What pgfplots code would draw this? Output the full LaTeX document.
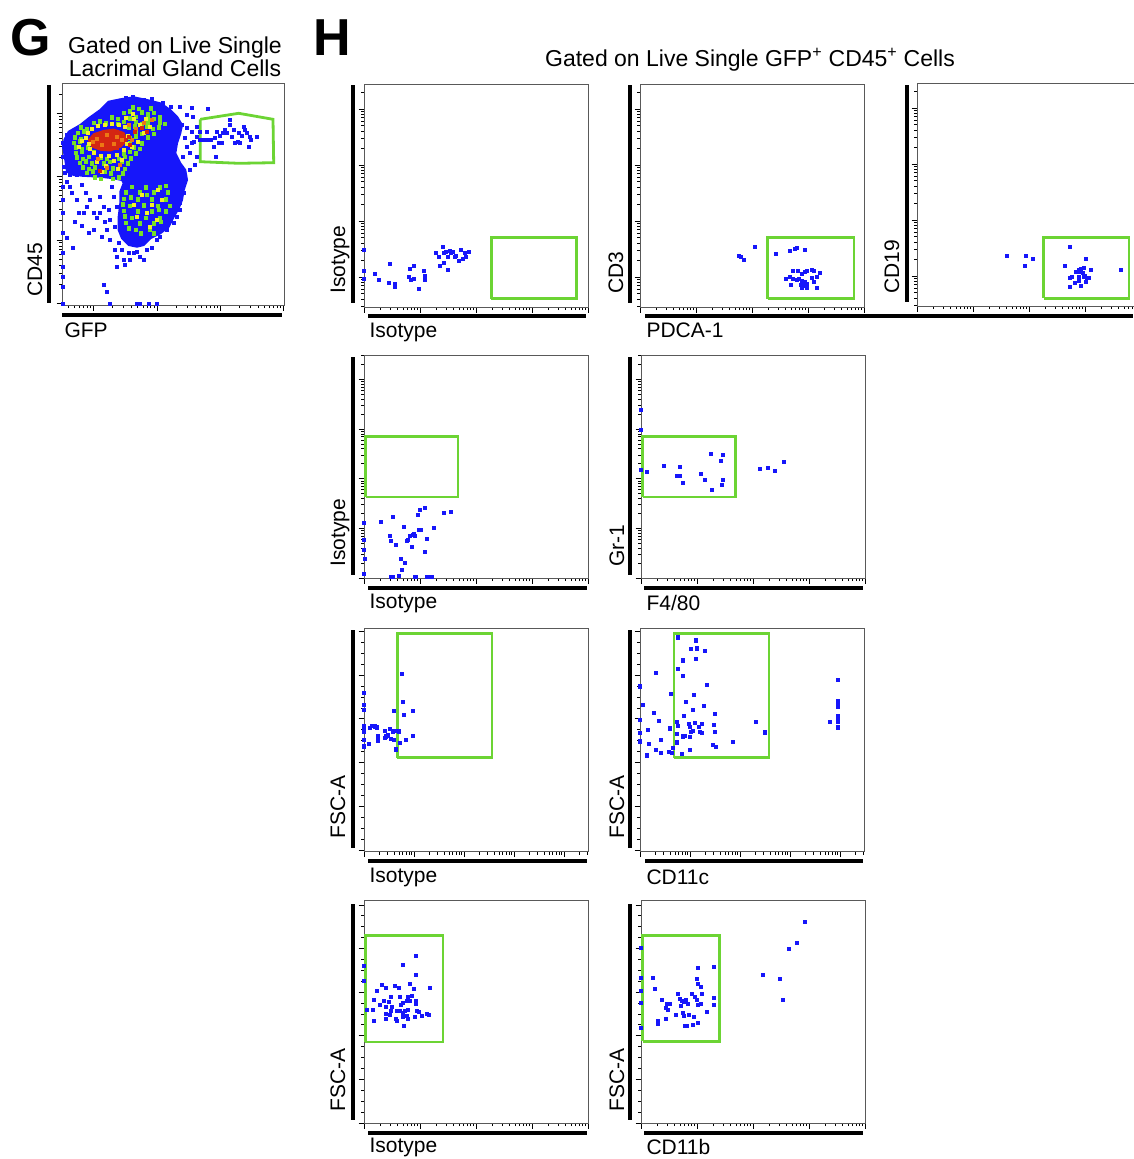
\documentclass[border=0pt]{standalone}
\usepackage{fontspec}
\setmainfont{Liberation Sans}
\usepackage{pgfplots}
\pgfplotsset{compat=1.18}
\definecolor{ptblue}{RGB}{22,22,250}
\definecolor{gate}{RGB}{108,212,52}
\definecolor{dgreen}{RGB}{118,224,40}
\definecolor{dyellow}{RGB}{244,240,40}
\definecolor{dorange}{RGB}{236,120,20}
\definecolor{dred}{RGB}{212,38,18}
\newcommand{\lf}{\fontsize{21}{25}\selectfont}
\newcommand{\tf}{\fontsize{23}{23.5}\selectfont}
\pgfplotsset{
  facs/.style={
    scale only axis, width=224pt, height=223pt,
    xmin=0, xmax=224, ymin=0, ymax=223,
    anchor=south west,
    axis line style={black!65, line width=0.9pt},
    tick align=outside, xtick pos=left, ytick pos=left,
    xticklabels={}, yticklabels={},
    major tick length=5.5pt, minor tick length=3pt,
    every tick/.append style={black, line width=0.9pt},
  },
  logxH/.style={xtick={0,56,112,168,224},
    minor xtick={16.9,26.7,33.7,39.1,43.6,47.3,50.6,53.4,72.9,82.7,89.7,95.1,99.6,103.3,106.6,109.4,128.9,138.7,145.7,151.1,155.6,159.3,162.6,165.4,184.9,194.7,201.7,207.1,211.6,215.3,218.6,221.4}},
  logxC/.style={xtick={0,50,100,150,200},
    minor xtick={15.1,23.9,30.1,35,38.9,42.3,45.2,47.7,65.1,73.9,80.1,85,88.9,92.3,95.2,97.7,115.1,123.9,130.1,135,138.9,142.3,145.2,147.7,165.1,173.9,180.1,185,188.9,192.3,195.2,197.7,215.1,223.9}},
  logyA/.style={ytick={30,86,142,198},
    minor ytick={0.7,7.7,13.1,17.6,21.3,24.6,27.4,46.9,56.7,63.7,69.1,73.6,77.3,80.6,83.4,102.9,112.7,119.7,125.1,129.6,133.3,136.6,139.4,158.9,168.7,175.7,181.1,185.6,189.3,192.6,195.4,214.9}},
  logyB/.style={ytick={0,49.6,99.2,148.8,198.4},
    minor ytick={14.9,23.7,29.9,34.7,38.6,41.9,44.8,47.3,64.5,73.3,79.5,84.3,88.2,91.5,94.4,96.9,114.1,122.9,129.1,133.9,137.8,141.1,144.0,146.5,163.7,172.5,178.7,183.5,187.4,190.7,193.6,196.1,213.3,222.1}},
  linyC/.style={ytick={1.5,45.2,88.9,132.6,176.3,220},
    minor ytick={12.4,23.4,34.3,56.1,67.1,78,99.8,110.8,121.7,143.5,154.5,165.4,187.2,198.2,209.1}},
  linyD/.style={ytick={0,43.6,87.2,130.8,174.4,218},
    minor ytick={10.9,21.8,32.7,54.5,65.4,76.3,98.1,109,119.9,141.7,152.6,163.5,185.3,196.2,207.1}},
  pts/.style={only marks, mark=square*, mark size=1.65pt, mark options={draw=#1, fill=#1, line width=0pt}},
  pts/.default=ptblue,
  gatebox/.style={draw=gate, line width=2.8pt, mark=none, line join=miter},
}
\begin{document}
\begin{tikzpicture}
\useasboundingbox (0pt,0pt) rectangle (1133pt,-1159pt);

% ---------------- titles and panel letters
\node[anchor=base west, font=\fontsize{52}{52}\selectfont\bfseries] at (7pt,-55pt) {G};
\node[anchor=base west, font=\fontsize{52}{52}\selectfont\bfseries] at (310pt,-55pt) {H};
\node[align=center, font=\tf] at (175pt,-57pt) {Gated on Live Single\\Lacrimal Gland Cells};
\node[font=\tf] at (750pt,-60pt) {Gated on Live Single GFP\textsuperscript{+} CD45\textsuperscript{+} Cells};

% ---------------- thick axis bars
\begin{scope}[line width=3.6pt]
\draw (49pt,-85pt) -- (49pt,-303pt);  \draw (62pt,-315pt) -- (282pt,-315pt);
\draw (353pt,-85pt) -- (353pt,-303pt); \draw (368pt,-316pt) -- (586pt,-316pt);
\draw (630pt,-85pt) -- (630pt,-303pt); \draw (645pt,-316pt) -- (1133pt,-316pt);
\draw (907pt,-85pt) -- (907pt,-302pt);
\draw (353pt,-357pt) -- (353pt,-575pt); \draw (368pt,-588pt) -- (587pt,-588pt);
\draw (630pt,-357pt) -- (630pt,-575pt); \draw (644pt,-588pt) -- (863pt,-588pt);
\draw (353pt,-630pt) -- (353pt,-848pt); \draw (368pt,-861pt) -- (587pt,-861pt);
\draw (630pt,-630pt) -- (630pt,-848pt); \draw (645pt,-861pt) -- (863pt,-861pt);
\draw (353pt,-904pt) -- (353pt,-1120pt); \draw (368pt,-1133pt) -- (587pt,-1133pt);
\draw (630pt,-904pt) -- (630pt,-1120pt); \draw (644pt,-1133pt) -- (863pt,-1133pt);
\end{scope}

% ---------------- axis labels
\node[font=\lf, anchor=west] at (61pt,-330pt) {GFP};
\node[font=\lf, rotate=90, anchor=west] at (35pt,-300pt) {CD45};
\node[font=\lf, anchor=west] at (366pt,-332pt) {Isotype};
\node[font=\lf, rotate=90, anchor=west] at (340pt,-297pt) {Isotype};
\node[font=\lf, anchor=west] at (643pt,-330pt) {PDCA-1};
\node[font=\lf, rotate=90, anchor=west] at (616pt,-297pt) {CD3};
\node[font=\lf, rotate=90, anchor=west] at (892pt,-297pt) {CD19};
\node[font=\lf, anchor=west] at (366pt,-603pt) {Isotype};
\node[font=\lf, rotate=90, anchor=west] at (340pt,-570pt) {Isotype};
\node[font=\lf, anchor=west] at (643pt,-603pt) {F4/80};
\node[font=\lf, rotate=90, anchor=west] at (617pt,-570pt) {Gr-1};
\node[font=\lf, anchor=west] at (366pt,-877pt) {Isotype};
\node[font=\lf, rotate=90, anchor=west] at (338pt,-842pt) {FSC-A};
\node[font=\lf, anchor=west] at (643pt,-877pt) {CD11c};
\node[font=\lf, rotate=90, anchor=west] at (617pt,-842pt) {FSC-A};
\node[font=\lf, anchor=west] at (366pt,-1147pt) {Isotype};
\node[font=\lf, rotate=90, anchor=west] at (338pt,-1115pt) {FSC-A};
\node[font=\lf, anchor=west] at (643pt,-1147pt) {CD11b};
\node[font=\lf, rotate=90, anchor=west] at (617pt,-1115pt) {FSC-A};

% ================= G: CD45 vs GFP
\begin{axis}[facs, at={(62pt,-305pt)}, width=222.3pt, height=222pt, xmax=222.3, ymax=222,
  xtick={31.7,95,158.3,221.7},
  minor xtick={6.5,12.6,17.7,21.9,25.6,28.8,50.8,61.9,69.8,75.9,81,85.2,88.9,92.1,114.1,125.2,133.1,139.2,144.3,148.5,152.2,155.4,177.4,188.5,196.4,202.5,207.6,211.8,215.5,218.7},
  ytick={1.7,65,128.3,191.7},
  minor ytick={20.8,31.9,39.8,45.9,51,55.2,58.9,62.1,84.1,95.2,103.1,109.2,114.3,118.5,122.2,125.4,147.4,158.5,166.4,172.5,177.6,181.8,185.5,188.7,210.8}]
% dense blue cloud
\addplot[fill=ptblue, draw=ptblue, line width=2pt, mark=none] coordinates {
(2.3,165) (6.7,173.3) (18.3,180) (26.7,186.7) (38.3,195) (46.7,203.3) (58.3,205.7) (71.7,207.7) (85,205) (98.3,201.7) (108.3,195) (115,188.3) (120,180) (118.3,171.7) (115,161.7) (113.3,151.7) (118.3,141.7) (123.3,135) (125,125) (121.7,115) (120,105) (116.7,96.7) (111.7,88.3) (106.7,78.3) (98.3,71.7) (88.3,66.7) (81.7,60) (75,58.3) (66.7,60) (60,66.7) (56.7,75) (56.7,88.3) (58.3,101.7) (58.3,113.3) (61.7,121.7) (60,125) (51.7,126.7) (38.3,128.3) (25,129) (11.7,130) (5,133.3) (3.3,145) (1.7,155) (2.3,165)};
% sparse blue events
\addplot[pts] coordinates {
(64.3,206.7) (71,207.7) (82.3,205) (90,206) (101,201.7) (109,197.7) (118.3,198.3) (130,196.7) (145.7,195.7) (131,187.7) (125,190) (56.7,203.3) (48.3,199)
(5,170) (10,173.3) (16.7,176.7) (1.7,158.3) (1,148.3) (1.7,138.3) (3.3,131.7) (8.3,130) (15,130) (21.7,130) (28.3,130)
(120,180) (125,176.7) (130,173.3) (135,178.3) (138.3,173.3) (135,168.3) (131.7,163.3) (125,158.3) (128.3,151.7) (135,148.3) (133.3,140) (128.3,135) (138.3,165) (130,161.7) (123.3,166.7) (121,148.3) (120,131.7) (123.3,125) (121.7,111.7) (118.3,101.7)
(8.3,118.3) (10,111.7) (5,123.3) (15,105) (20,120) (24.3,111.7) (28.3,105) (38.3,108.3) (41.7,98.3) (46.7,95) (48.3,85) (31.7,91.7) (21.7,91.7) (35,86.7) (20,79) (26.7,71.7) (5,66.7) (11,56.7) (40,68.3) (48.3,65) (53.3,55) (55,48.3) (61.7,45) (68.3,45) (71.7,51.7) (78.3,48.3) (81.7,45) (85,55) (90,56.7) (95,65) (55,38.3) (63.3,40) (41.7,20) (45,13.3) (48.3,1) (75,1) (78.3,1) (86.7,1) (95,1)
(50,118.3) (51.7,108.3) (55,98.3) (53.3,78.3) (45,75) (31.7,75) (25,98.3) (16.7,91.7) (13.3,83.3) (38.3,91.7) (43.3,83.3) (56.7,61.7) (60,55) (66.7,51.7) (75,53.3) (98.3,68.3) (105,75) (111.7,81.7) (115,88.3) (118.3,95)
(0.7,161.7) (0.7,118.3) (0.7,105) (0.7,91.7) (0.7,71.7) (0.7,51.7) (0.7,38.3) (0.7,28.3) (0.7,18.3) (0.7,1)
(141.7,165) (145,165) (149,165) (153.3,166.7) (155,173.3) (158.3,169) (161,171.7) (163.3,175) (167.7,185) (168.3,180) (165,171.7) (170,168.3) (171.7,175) (173.3,161.7) (175.7,163.3) (176.7,171.7) (178.3,161.7) (180,169) (181.7,178.3) (183.3,175) (185,171.7) (186.7,158.3) (187.7,168.3) (189,165) (195,168.3) (154.3,148.3) (156.7,161.7) (160,161.7) (145,173.3) (151.7,158.3)};
% medium density (green)
\addplot[pts=dgreen] coordinates {
(71,197.5) (77,196) (89,196.5)
(62,192) (68,193.5) (80,192.5) (86,190.5) (92,192)
(50,187.5) (56,186) (68,186.5) (74,188) (86,187.5) (92,186) (98,187.5)
(32,182) (38,183.5) (44,181.5) (56,181) (62,183) (74,183) (80,181) (86,182.5) (98,182.5) (103,181)
(19,177.5) (25,176) (67,177) (73,178.5) (85,178) (91,176) (97,177.5)
(16,172) (22,173.5) (74,173) (80,171) (92,171)
(13,167.5) (19,166) (68,167) (74,168.5) (86,167.5)
(12,162) (18,163.5) (68,161.5) (80,161.5)
(14,157.5) (20,156) (26,157.5) (72,157.5) (78,156)
(14,152) (20,153.5) (32,153) (62,151.5) (68,153) (74,151.5)
(15,147.5) (21,146) (27,148) (39,147.5) (45,146) (57,146) (63,148) (69,146.5)
(18,142) (24,143.5) (30,141.5) (42,141.5) (48,143) (60,143) (66,141.5)
(21,137.5) (27,136) (33,137.5) (45,138) (51,136.5) (63,136)
(25,132) (31,133.5) (43,133) (49,131.5) (61,131.5)
(33,127.5) (39,126) (51,126) (57,127.5)
(70,118) (84,117.5) (98,117.5) (104,119)
(64,112.5) (78,112.5) (92,112.5) (106,112.5) (85,110)
(62,106) (76,105.5) (90,105.5) (104,105.5) (69,107.5)
(68,99) (82,99.5) (96,99) (108,99) (61,100.5)
(62,94) (76,93.5) (90,93.5) (104,93.5) (97,95)
(70,87) (84,87) (98,87) (63,88.5)
(64,82) (78,81.5) (92,81.5) (99,83)
(74,75) (88,75) (67,76.5)
(79,71.5) (92,71.5)};
% high density (yellow)
\addplot[pts=dyellow] coordinates {
(24,167) (27,161) (26,172) (30,176) (36,179) (43,180) (50,181) (57,180) (63,178) (66,169) (65,161) (62,155) (55,150) (47,149) (39,149) (32,152) (28,156)
(35,143) (44,139) (52,144) (60,145) (70,158) (76,163) (82,172) (78,180) (72,186) (84,186) (88,178) (40,133) (56,136) (20,164) (17,158) (71,191) (64,187)
(80,110) (90,100) (85,92) (95,85) (75,88) (100,105) (88,78) (72,100) (96,115)};
\addplot[pts=dorange] coordinates {
(67,180) (74,176) (82,182) (90,185) (45,137) (58,140) (36,146) (70,165)};
% highest density (red core)
\addplot[fill=dred, draw=dred, line width=1.5pt, mark=none] coordinates {
(26.7,165) (31.7,171) (41.7,174.3) (51.7,175.7) (61.7,172.3) (65,165) (59,158.3) (48.3,154.3) (38.3,155) (30,158.3) (26.7,165)};
\addplot[pts=dorange] coordinates {
(35,166) (45,170) (55,168) (40,160) (52,161) (60,165) (31,163)};
\addplot[pts=dred] coordinates {
(38.3,134.3) (55,156.7) (66.7,168.3) (73.3,173.3) (80,176.7) (85,173.3) (68.3,160)};
% gate
\addplot[gatebox] coordinates {(138.3,185.7) (176.7,191.7) (211,185.7) (211.7,142.3) (176.7,141.7) (138.3,143.3) (138.3,185.7)};
\end{axis}

% ================= H row 1, col 1: Isotype vs Isotype
\begin{axis}[facs, at={(364pt,-307pt)}, logxH, logyA]
\addplot[pts] coordinates {
(0,56.7) (0,36) (0,28.3) (10.7,33) (15,26.7) (26.3,42.7) (25,24) (30.7,22.7) (31,20) (45.7,37.7) (50,41.3) (45,30) (47.3,26.7) (50,28.3) (54.7,17.7) (59.7,36) (61,31.3) (61,26.7)
(72.3,54) (75,50) (79,60) (79.7,54) (82.3,55) (84,50) (85.7,55.7) (87.3,54) (89,55) (90.7,50) (92.3,50.7) (95,46) (97.3,57.3) (99,48) (100.7,54) (102.3,50) (104.7,54.7) (76.3,41) (79.7,44) (84,36.7)};
\addplot[gatebox] coordinates {(127.3,8.3) (212.3,8.3) (212.3,69.3) (127.3,69.3) (127.3,8.3)};
\end{axis}

% ================= H row 1, col 2: CD3 vs PDCA-1
\begin{axis}[facs, at={(640pt,-307pt)}, logxH, logyA]
\addplot[pts] coordinates {
(99.3,51.3) (100.7,50) (104,46.7) (115,60) (136,53.3) (150,55.7) (155,57.7) (156.7,59) (165.3,56.7)
(152.7,36) (158.3,36) (162,33.3) (165,35) (166.7,36) (172.3,37.3) (174,36) (180,34.3)
(146,28.3) (150,30) (153.3,28.3) (156.7,26.7) (159.3,28.3) (161.7,26) (163.3,24) (165.3,25) (167.3,23.3) (161,21.7) (163.3,20.7) (166.7,19) (151,22.3) (172.3,29.3) (176.7,30) (174.3,25) (177.3,19.3) (162.3,19)};
\addplot[gatebox] coordinates {(127.7,8.3) (214,8.3) (214,69.3) (127.7,69.3) (127.7,8.3)};
\end{axis}

% ================= H row 1, col 3: CD19
\begin{axis}[facs, at={(917pt,-306pt)}, logxH, logyA]
\addplot[pts] coordinates {
(90,50) (109.3,50) (108.3,40) (116.3,47.3) (148,40) (153,59) (169,46.7) (204,36)
(158.7,34.3) (161.7,36) (164,37) (166.7,37.7) (163.3,33.7) (166,32.7) (168.3,30) (174,36) (155,29.3) (152.7,27.7) (162.3,29.3) (170,27.7) (172.3,27.7) (169,24.3) (162.3,24.7) (157.7,23.3) (153,19) (163.7,20) (166.7,29.3)};
\addplot[gatebox] coordinates {(126.7,7.7) (212,7.7) (212,68.7) (126.7,68.7) (126.7,7.7)};
\end{axis}

% ================= H row 2, col 1: Isotype vs Isotype
\begin{axis}[facs, at={(364pt,-578pt)}, logxH, logyB]
\addplot[pts] coordinates {
(0,55) (0,38.3) (0,27.7) (1.3,19.3) (0,4.3) (17.3,56) (29,61) (25.7,41.7) (26.7,36.7) (32.3,33) (36.7,19.3) (41.3,15.3) (38,7.7) (35,2.3) (26.7,0.7) (29,0.7)
(40.3,51.3) (43,36.7) (43.7,37.7) (47.7,31) (46.3,42) (49,42.7) (50.7,42) (50.3,44.3) (54.7,47.7) (56.7,47.7) (54.3,63.3) (55.7,68.3) (61.3,70) (63.3,38.7) (61.3,26) (69.7,50.3) (79.7,65) (87,66.3)
(51.3,0.7) (52.3,0.7) (63.3,0.7) (65.7,0.7) (68.3,0.7)};
\addplot[gatebox] coordinates {(1.7,81) (94,81) (94,141.7) (1.7,141.7) (1.7,81)};
\end{axis}

% ================= H row 2, col 2: Gr-1 vs F4/80
\begin{axis}[facs, at={(641pt,-578pt)}, logxH, logyB]
\addplot[pts] coordinates {
(0,167.7) (0,148.3) (0,107.7) (6,106) (22.7,112) (39.3,111.3) (36,101.7) (38.7,101.7) (42,95.3) (60.3,104.3) (64,98) (70.3,123.7) (82.3,122.7) (79.7,117.3) (82.3,98) (80.7,92.7) (71.3,88.3)
(119.3,108.7) (127.3,109.7) (134.3,106.7) (143,115.7)};
\addplot[gatebox] coordinates {(1.7,81) (94.3,81) (94.3,141.7) (1.7,141.7) (1.7,81)};
\end{axis}

% ================= H row 3, col 1: FSC-A vs Isotype
\begin{axis}[facs, at={(364pt,-851.5pt)}, logxC, linyC]
\addplot[pts] coordinates {
(0,158.3) (0,146.7) (0,141.7) (0,125) (0,120) (0,111.7) (0,105) (5.7,123.3) (8.3,125.7) (10.7,125) (13,124) (5,107.3) (14,115) (14.3,110.7) (20.7,120.7) (20.7,113.3) (22.3,115) (24,116) (26.3,122.3) (26.7,112.7) (29,120) (29.7,111.3) (31.7,120.7) (29.7,140.7) (32.3,102) (35.7,108.3) (34.7,120) (37.7,177.3) (39,149.3) (40,136.7) (48.7,140.7) (48.7,115.7) (42.3,111.7)};
\addplot[gatebox] coordinates {(33.3,94) (128,94) (128,217.7) (33.3,217.7) (33.3,94)};
\end{axis}

% ================= H row 3, col 2: FSC-A vs CD11c
\begin{axis}[facs, at={(640pt,-851.5pt)}, logxC, linyC]
\addplot[pts] coordinates {
(37.7,214) (55.7,211) (50.7,202.3) (56.7,203) (65.3,200.7) (43.3,191) (56.3,192.7) (37.7,182.3) (43.3,175.7) (16,178.3) (0,165) (67,166.3) (31,157.3) (54,156.7) (2.7,146.7) (46,149.3) (14,138.7) (19.3,130.7) (53,141.7) (64.3,145.3) (44.3,135.3) (74.7,137.3)
(0,131.3) (37.3,129.7) (37.7,125.7) (49.3,127.3) (55,128.3) (62.3,127.3) (74,126.7) (50,124.3) (58.7,124.3) (53.3,120.7) (50.7,119.3) (60,119.3) (62,118.7) (75.3,119.7) (7.7,121.3) (30,123) (37.3,117.7) (45,115.7) (50,114.3) (43.3,115)
(0,118.3) (0,110) (9.3,107.3) (20.7,111.7) (37.3,109) (16,101.3) (21,98.7) (29,99.7) (32,98.3) (32.7,103.3) (7.3,96) (42.3,97.7) (50,101.3) (73.3,106.7) (76,104.7) (93.3,109.3) (116,129.3) (125,119)
(190,129.3) (198.3,171.3) (198.3,150) (198.3,148) (198.3,145) (198.3,135) (198.3,132.7) (198.3,130) (198.3,124)};
\addplot[gatebox] coordinates {(34,94) (129,94) (129,217.7) (34,217.7) (34,94)};
\end{axis}

% ================= H row 4, col 1: FSC-A vs Isotype
\begin{axis}[facs, at={(364pt,-1123pt)}, logxH, linyD]
\addplot[pts] coordinates {
(0,156.7) (0,141.7) (3,113.3) (51.7,166.7) (39.3,158.3) (52.3,147.7) (18,138.3) (30.7,137.3) (34.7,135) (46,139) (50,134) (65.7,135) (22.3,135) (13,131.7) (27.3,125.7) (35.7,126.3) (43.7,125.7) (48,127.3) (10.3,123) (20,122) (25,121.3) (39,120) (43,121.7) (45.7,122.3) (52,122.3) (52.3,119)
(15.7,117.7) (22.3,115.7) (28.3,116.3) (37.3,118.3) (9,113.3) (26.7,112.3) (33,111.7) (36,112.3) (41,112.3) (44.3,113) (53,112.3) (55,110.7) (63,109) (65,108.3) (22.3,109) (26.3,107.7) (39,110) (43,107.3) (58.3,106.7) (10.3,102.3) (22.3,104.3) (31.7,103.7) (33,102.3) (39,105.7) (44.3,104) (50.7,105.7) (40.3,97)};
\addplot[gatebox] coordinates {(1.3,81) (79,81) (79,187.3) (1.3,187.3) (1.3,81)};
\end{axis}

% ================= H row 4, col 2: FSC-A vs CD11b
\begin{axis}[facs, at={(641pt,-1123pt)}, logxH, linyD]
\addplot[pts] coordinates {
(0,175) (0,145) (0,131.7) (0,120) (0,95) (11.7,145.3) (13.7,134) (20.7,123.3) (24.7,115) (26,119) (27.3,113) (28.7,119) (16.7,102) (16.7,99) (25,103.7) (34.7,108) (37.3,129.3) (38.7,124) (41,121.7) (40,116.7) (42.7,120.7) (45,123.3) (46.7,119.3) (42,110) (43.3,106.7) (47.7,108.3) (44.3,97) (46,97) (52.7,106) (52,97.7) (56.7,100.3)
(50.7,129.3) (54.3,125.7) (55.7,123) (57.3,155) (55.7,143.7) (56.7,139) (60,136) (61,129) (60,119.3) (57.3,117.7) (66,110.7) (73.3,156) (73.3,125.3) (73.3,118.3)
(122.3,148) (139,143.7) (142.3,122.7) (148,174.3) (155.7,180.3) (163.7,201.3)};
\addplot[gatebox] coordinates {(1.7,81.7) (78.7,81.7) (78.7,187.3) (1.7,187.3) (1.7,81.7)};
\end{axis}
\end{tikzpicture}
\end{document}
